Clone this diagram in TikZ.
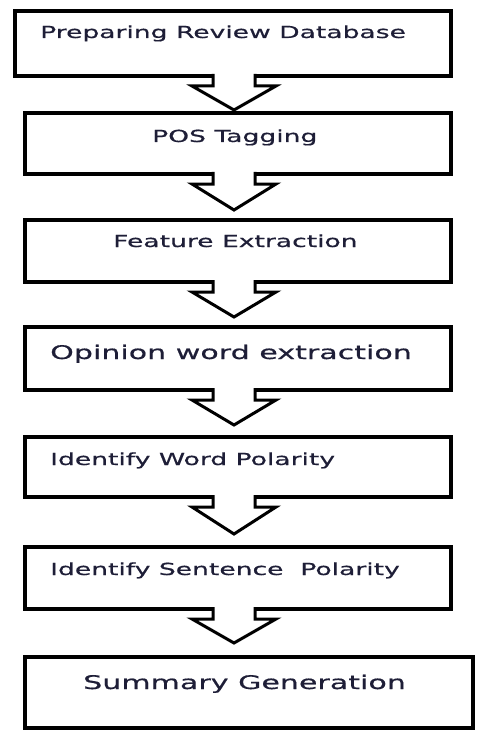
\documentclass[tikz,border=0pt]{standalone}
\usepackage{fontspec}
\newfontfamily\stepfont[FakeStretch=1.6,FakeBold=0.6]{DejaVu Sans}
\usetikzlibrary{calc}
\definecolor{steptext}{RGB}{30,30,55}

\begin{document}
\begin{tikzpicture}[x=1pt,y=-1pt,line join=miter,
  stepbox/.style={draw,line width=3.6pt,inner sep=0pt,outer sep=0pt,anchor=north west,fill=white},
  steplabel/.style={anchor=base west,inner sep=0pt,text=steptext,font=\stepfont\fontsize{16.6}{19}\selectfont},
  biglabel/.style={steplabel,font=\stepfont\fontsize{18.8}{22}\selectfont},
  flowarrow/.style={line width=3pt,line join=miter}]
\useasboundingbox (0,0) rectangle (479,730);
\coordinate (axis) at (234,0);
\node[stepbox,minimum width=436pt,minimum height=65pt] (prep) at (15,11) {};
\node[stepbox,minimum width=426pt,minimum height=61pt] (pos) at (25,113) {};
\node[stepbox,minimum width=426pt,minimum height=62pt] (feat) at (25,220) {};
\node[stepbox,minimum width=426pt,minimum height=63pt] (opin) at (25,327) {};
\node[stepbox,minimum width=426pt,minimum height=60pt] (word) at (25,437) {};
\node[stepbox,minimum width=426pt,minimum height=62pt] (sent) at (25,547) {};
\node[stepbox,minimum width=448pt,minimum height=71pt] (summ) at (25,657) {};
\node[steplabel] (prepT) at (40,38) {Preparing Review Database};
\node[steplabel] (posT) at (152,142) {POS Tagging};
\node[steplabel] (featT) at (113,247) {Feature Extraction};
\node[biglabel] (opinT) at (50,359) {Opinion word extraction};
\node[steplabel] (wordT) at (50,465) {Identify Word Polarity};
\node[steplabel] (sentT) at (50,575) {Identify Sentence\ \ Polarity};
\node[biglabel] (summT) at (83,689) {Summary Generation};
\foreach \a/\b/\g in {prep/pos/3,pos/feat/10,feat/opin/10,opin/word/12,word/sent/13,sent/summ/14}{
  \fill[white] ($(\a.south -| axis)+(-21,-3)$) rectangle ($(\a.south -| axis)+(21,10)$);
  \draw[flowarrow] ($(\a.south -| axis)+(-21,-2)$) -- ($(\a.south -| axis)+(-21,10)$) -- ($(\a.south -| axis)+(-42,10)$) -- ($(\b.north -| axis)+(0,-\g)$) -- ($(\a.south -| axis)+(42,10)$) -- ($(\a.south -| axis)+(21,10)$) -- ($(\a.south -| axis)+(21,-2)$);
}
\end{tikzpicture}
\end{document}
